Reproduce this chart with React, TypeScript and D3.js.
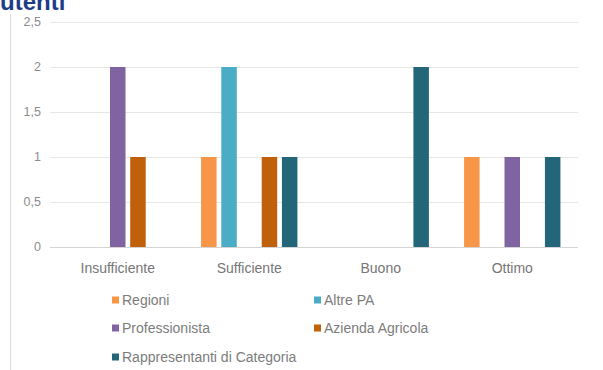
import React from "react";
import * as d3 from "d3";

const categories = ["Insufficiente", "Sufficiente", "Buono", "Ottimo"];
const seriesNames = ["Regioni", "Altre PA", "Professionista", "Azienda Agricola", "Rappresentanti di Categoria"];
const regioni = [0, 1, 0, 1];
const altrePA = [0, 2, 0, 0];
const professionista = [2, 0, 0, 1];
const aziendaAgricola = [1, 1, 0, 0];
const rappresentanti = [0, 1, 2, 1];
const seriesValues = [regioni, altrePA, professionista, aziendaAgricola, rappresentanti];
const seriesColors = ["#F79646", "#4BACC6", "#8064A2", "#C0600B", "#23667A"];
const yTicks = [0, 0.5, 1, 1.5, 2, 2.5];
const title = "utenti";

export default function App() {
  const W = 603, H = 370;
  const x0 = d3.scaleBand<string>().domain(categories).range([52, 578]).paddingInner(0).paddingOuter(0);
  const x1 = d3.scaleBand<string>().domain(seriesNames).range([0, x0.bandwidth()]).paddingInner(0.233).paddingOuter(0.87);
  const y = d3.scaleLinear().domain([0, 2.5]).range([247, 22]);
  const fmt = (v: number) => String(v).replace(".", ",");
  const font = "'Liberation Sans', Arial, sans-serif";
  const legendPos = [
    { x: 112, y: 300 },
    { x: 314, y: 300 },
    { x: 112, y: 328 },
    { x: 314, y: 328 },
    { x: 112, y: 357 },
  ];
  return (
    <svg width={W} height={H} style={{ position: "absolute", left: 0, top: 0, background: "#fff" }} fontFamily={font}>
      <line x1={10.5} x2={10.5} y1={14} y2={370} stroke="#dedede" strokeWidth={1} />
      {yTicks.map((t) => (
        <g key={t}>
          <line x1={50} x2={578} y1={Math.round(y(t)) + 0.5} y2={Math.round(y(t)) + 0.5} stroke={t === 0 ? "#d4d4d4" : "#e6e6e6"} strokeWidth={1} />
          <text x={41} y={y(t)} dy="0.35em" textAnchor="end" fontSize={12.5} fill="#8c8c8c">{fmt(t)}</text>
        </g>
      ))}
      {categories.map((c, ci) => (
        <g key={c}>
          {seriesNames.map((s, si) => {
            const v = seriesValues[si][ci];
            if (!v) return null;
            return (
              <rect key={s} x={(x0(c) ?? 0) + (x1(s) ?? 0)} y={y(v)} width={x1.bandwidth()} height={y(0) - y(v)} fill={seriesColors[si]} />
            );
          })}
          <text x={(x0(c) ?? 0) + x0.bandwidth() / 2} y={268} dy="0.35em" textAnchor="middle" fontSize={14} fill="#767676">{c}</text>
        </g>
      ))}
      {seriesNames.map((s, i) => (
        <g key={s}>
          <rect x={legendPos[i].x} y={legendPos[i].y - 3.5} width={7} height={7} fill={seriesColors[i]} />
          <text x={legendPos[i].x + 10} y={legendPos[i].y} dy="0.35em" fontSize={14} fill="#7c7c7c">{s}</text>
        </g>
      ))}
      <text x={0} y={10} fontSize={24} fontWeight="bold" fill="#1F3C88">{title}</text>
    </svg>
  );
}
